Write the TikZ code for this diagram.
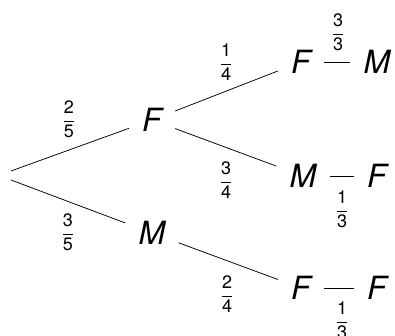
\documentclass[tikz,border=0pt]{standalone}
\usepackage{fontspec}
\setmainfont{TeX Gyre Heros}
\newcommand{\fr}[2]{$\displaystyle\frac{\hbox{#1}}{\hbox{#2}}$}
\tikzset{every picture/.style={line width=0.75pt}}
\begin{document}
\begin{tikzpicture}[x=1pt,y=1pt,yscale=-1,xscale=1,
    sex/.style={font=\fontsize{32}{32}\selectfont\itshape, inner xsep=13pt, inner ysep=2pt},
    prob/.style={font=\fontsize{18}{18}\selectfont, inner sep=0pt}]
    \useasboundingbox (0,0) rectangle (395,336);
    %Root
    \coordinate (r1) at (11,171);
    \coordinate (r2) at (11,180);
    %Nodes
    \node[sex] (f1) at (152,120) {F};
    \node[sex] (m1) at (152,233) {M};
    \node[sex] (ff) at (301,62) {F};
    \node[sex] (ffm) at (377,62) {M};
    \node[sex] (fm) at (303,176) {M};
    \node[sex] (fmf) at (377,176) {F};
    \node[sex] (mf) at (301,288) {F};
    \node[sex] (mff) at (377,288) {F};
    %Straight Lines
    \draw (r1) -- (f1);
    \draw (r2) -- (m1);
    \draw (f1) -- (ff);
    \draw (f1) -- (fm);
    \draw (m1) -- (mf);
    \draw (ff) -- (ffm);
    \draw (fm) -- (fmf);
    \draw (mf) -- (mff);
    %Labels
    \node[prob] (p25) at (69,119) {\fr{2}{5}};
    \node[prob] (p35) at (68,232) {\fr{3}{5}};
    \node[prob] (p14) at (226,62) {\fr{1}{4}};
    \node[prob] (p34) at (226,180) {\fr{3}{4}};
    \node[prob] (p24) at (227,294) {\fr{2}{4}};
    \node[prob] (p33) at (338,32) {\fr{3}{3}};
    \node[prob] (p13a) at (342,209) {\fr{1}{3}};
    \node[prob] (p13b) at (342,320) {\fr{1}{3}};
\end{tikzpicture}
\end{document}
